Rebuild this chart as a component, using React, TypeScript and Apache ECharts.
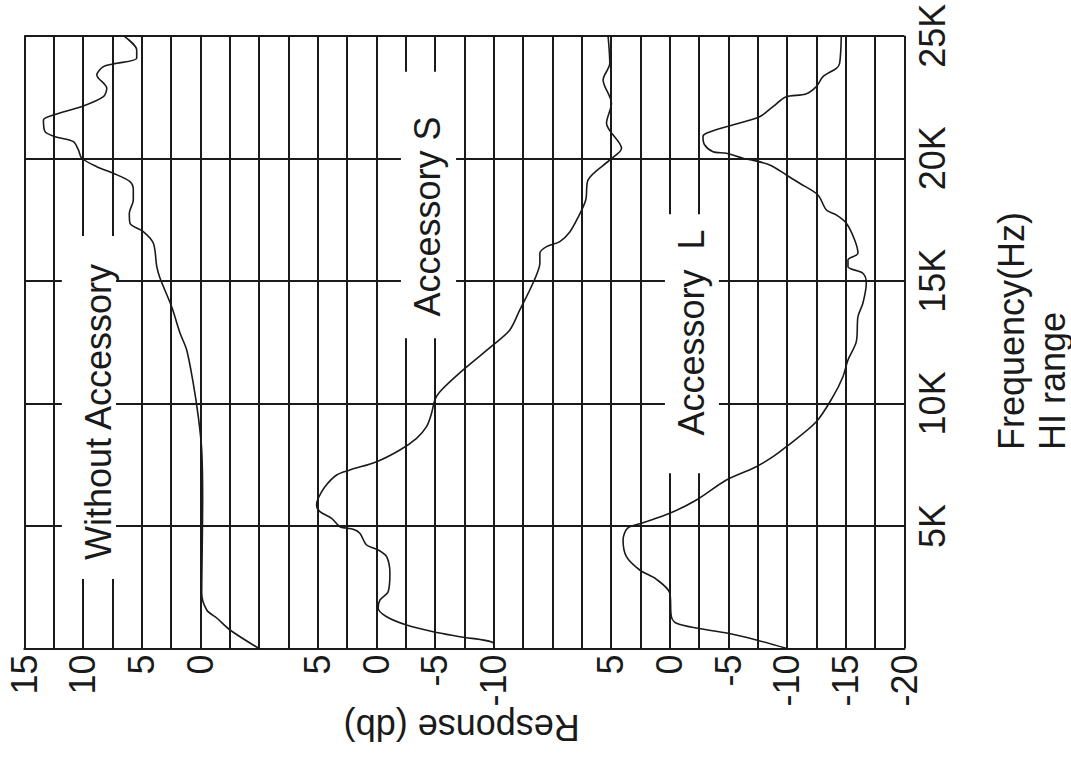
import React, { useEffect, useRef } from "react";
import * as echarts from "echarts";

// ---- Data (frequency in Hz, response in dB as read on each section's own scale) ----
const withoutFreq = [0, 755, 1244, 1571, 2264, 4000, 6059, 8099, 9457, 10820, 12179, 12872, 13945, 15104, 15577, 16532, 17006, 17348, 17756, 18299, 18707, 19045, 19388, 19657, 20000, 20339, 20677, 20881, 21085, 21563, 21767, 22134, 22513, 22856, 23399, 23737, 23848, 24080, 24419, 25000];
const withoutResp = [-5.0, -2.53, -1.4, -0.55, -0.12, -0.16, -0.2, -0.12, 0.17, 0.6, 1.16, 1.73, 2.44, 3.43, 3.71, 4.0, 4.86, 5.99, 6.05, 5.71, 5.71, 5.99, 7.41, 8.82, 10.1, 10.39, 10.82, 12.38, 13.23, 13.37, 12.52, 9.97, 8.26, 7.97, 8.82, 8.26, 7.41, 5.42, 5.42, 6.56];

const accSFreq = [0, 237, 481, 685, 959, 1297, 1640, 1979, 2317, 3068, 3745, 4019, 4223, 4700, 4863, 4969, 5312, 5581, 5855, 6128, 6601, 7079, 7283, 7621, 8099, 8576, 9049, 9596, 10139, 10477, 11363, 12383, 12995, 13811, 14626, 15239, 15716, 16124, 16393, 16597, 16993, 17564, 18299, 19115, 19931, 20408, 21428, 22244, 23195, 23876, 25000];
const accSResp = [-10.02, -9.96, -7.12, -4.85, -2.58, -0.88, -0.16, -0.31, -1.01, -1.16, -0.88, -0.16, 0.83, 1.4, 1.97, 3.1, 3.81, 4.8, 5.09, 4.95, 4.38, 3.38, 2.25, -0.03, -2.01, -3.43, -4.28, -4.71, -4.99, -5.42, -7.4, -9.96, -11.38, -12.23, -13.08, -13.65, -13.94, -13.94, -14.51, -15.64, -16.49, -17.17, -17.85, -18.05, -19.9, -20.9, -19.62, -20.04, -19.33, -19.9, -19.75];

const accLFreq = [0, 347, 620, 824, 1028, 1297, 2264, 2823, 3203, 3745, 4427, 4904, 5108, 5516, 6059, 6875, 7417, 7825, 8233, 9253, 10273, 11089, 11771, 12518, 13537, 14084, 14900, 15308, 15577, 15850, 16124, 16667, 17348, 17687, 17891, 18503, 18980, 19319, 19727, 19931, 20000, 20204, 20269, 20543, 20881, 21020, 21289, 21697, 22105, 22500, 22620, 22922, 23330, 23672, 23876, 25000];
const accLResp = [-10.0, -7.39, -4.97, -2.42, -0.58, -0.15, -0.01, 1.12, 2.55, 3.68, 3.97, 3.6, 2.4, -0.01, -2.28, -4.84, -7.39, -8.81, -9.95, -12.5, -13.92, -14.77, -15.2, -15.91, -16.05, -16.47, -16.76, -16.47, -15.2, -15.2, -16.05, -15.77, -15.06, -14.2, -13.36, -12.64, -11.08, -9.95, -8.53, -7.0, -6.25, -4.84, -3.7, -2.99, -2.84, -3.13, -4.84, -7.67, -8.81, -9.9, -11.6, -12.5, -13.07, -14.21, -14.49, -14.63];

// Section offsets on the shared horizontal response scale
const OFFSET_WITHOUT = 0;
const OFFSET_S = -15;
const OFFSET_L = -40;

// Tick labels of the shared response scale
const respTickPos = [15, 10, 5, 0, -10, -15, -20, -25, -35, -40, -45, -50, -55, -60];
const respTickText = ["15", "10", "5", "0", "5", "0", "-5", "-10", "5", "0", "-5", "-10", "-15", "-20"];

const freqTickPos = [5000, 10000, 15000, 20000, 25000];
const freqTickText = ["5K", "10K", "15K", "20K", "25K"];

// Curve labels: [text, resp-left, resp-right, freq-low, freq-high, text resp centre, text freq centre]
const labelTexts = ["Without Accessory", "Accessory S", "Accessory  L"];
const labelRespA = [11.8, -17.1, -39.6];
const labelRespB = [7.18, -21.8, -44.2];
const labelFreqA = [2835, 12656, 7148];
const labelFreqB = [16830, 23533, 17715];
const labelRespC = [8.7, -19.4, -41.9];
const labelFreqC = [9650, 17626, 12893];

const FONT = "'Liberation Sans', Arial, Helvetica, sans-serif";
const INK = "#1a1a1a";

function build(freq: number[], resp: number[], off: number) {
  return freq.map((f, i) => [resp[i] + off, f]);
}

export default function App() {
  const ref = useRef<HTMLDivElement>(null);
  useEffect(() => {
    if (!ref.current) return;
    const chart = echarts.init(ref.current, undefined, { renderer: "svg" });
    const lineStyle = { color: INK, width: 1.6 };
    chart.setOption({
      animation: false,
      backgroundColor: "#ffffff",
      grid: { left: 24.3, right: 166.7, top: 35.7, bottom: 113.5, containLabel: false },
      xAxis: {
        type: "value",
        inverse: true,
        min: -60,
        max: 15,
        interval: 2.5,
        axisLine: { show: true, lineStyle: { color: INK, width: 2 } },
        axisTick: { show: false },
        splitLine: { show: true, showMinLine: true, showMaxLine: true, lineStyle: { color: INK, width: 2 } },
        axisLabel: {
          rotate: 90,
          margin: 6,
          fontSize: 36,
          fontFamily: FONT,
          color: INK,
          formatter: (v: number) => {
            const i = respTickPos.findIndex((p) => Math.abs(p - v) < 1e-6);
            return i >= 0 ? respTickText[i] : "";
          },
        },
      },
      yAxis: {
        type: "value",
        position: "right",
        min: 0,
        max: 25000,
        interval: 5000,
        axisLine: { show: true, lineStyle: { color: INK, width: 2 } },
        axisTick: { show: false },
        splitLine: { show: true, showMinLine: true, showMaxLine: true, lineStyle: { color: INK, width: 2 } },
        axisLabel: {
          rotate: 90,
          margin: 10,
          fontSize: 36,
          fontFamily: FONT,
          color: INK,
          formatter: (v: number) => {
            const i = freqTickPos.findIndex((p) => Math.abs(p - v) < 1e-6);
            return i >= 0 ? freqTickText[i] : "";
          },
        },
      },
      series: [
        { type: "line", name: "Without Accessory", data: build(withoutFreq, withoutResp, OFFSET_WITHOUT), showSymbol: false, smooth: 0.3, lineStyle, z: 3 },
        { type: "line", name: "Accessory S", data: build(accSFreq, accSResp, OFFSET_S), showSymbol: false, smooth: 0.3, lineStyle, z: 3 },
        { type: "line", name: "Accessory L", data: build(accLFreq, accLResp, OFFSET_L), showSymbol: false, smooth: 0.3, lineStyle, z: 3 },
      ],
    });

    const graphics: any[] = [];
    labelTexts.forEach((t, i) => {
      const p1 = chart.convertToPixel({ gridIndex: 0 }, [labelRespA[i], labelFreqA[i]]) as number[];
      const p2 = chart.convertToPixel({ gridIndex: 0 }, [labelRespB[i], labelFreqB[i]]) as number[];
      const pc = chart.convertToPixel({ gridIndex: 0 }, [labelRespC[i], labelFreqC[i]]) as number[];
      const x = Math.min(p1[0], p2[0]);
      const y = Math.min(p1[1], p2[1]);
      graphics.push({
        type: "rect",
        z: 50,
        shape: { x, y, width: Math.abs(p2[0] - p1[0]), height: Math.abs(p2[1] - p1[1]) },
        style: { fill: "#ffffff", stroke: null },
      });
      graphics.push({
        type: "text",
        z: 51,
        x: pc[0],
        y: pc[1],
        rotation: Math.PI / 2,
        style: { text: t, font: `36px ${FONT}`, fill: INK, textAlign: "center", textVerticalAlign: "middle" },
      });
    });
    graphics.push({
      type: "text",
      z: 51,
      x: 461.7,
      y: 727,
      rotation: Math.PI,
      style: { text: "Response (db)", font: `36px ${FONT}`, fill: INK, textAlign: "center", textVerticalAlign: "middle" },
    });
    graphics.push({
      type: "text",
      z: 51,
      x: 1011,
      y: 450,
      rotation: Math.PI / 2,
      style: { text: "Frequency(Hz)", font: `36px ${FONT}`, fill: INK, textAlign: "left", textVerticalAlign: "middle" },
    });
    graphics.push({
      type: "text",
      z: 51,
      x: 1052,
      y: 450,
      rotation: Math.PI / 2,
      style: { text: "HI range", font: `36px ${FONT}`, fill: INK, textAlign: "left", textVerticalAlign: "middle" },
    });
    chart.setOption({ graphic: graphics });

    return () => chart.dispose();
  }, []);
  return <div ref={ref} style={{ position: "absolute", left: 0, top: 0, width: 1071, height: 762 }} />;
}
